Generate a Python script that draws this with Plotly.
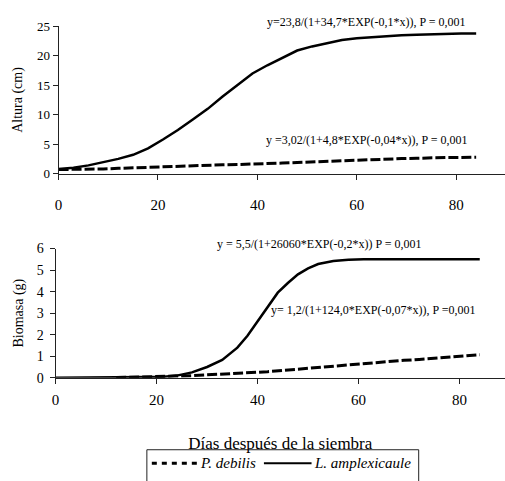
import plotly.graph_objects as go

W, H = 505, 481
FONT = "Liberation Serif, Times New Roman, serif"

# --- Altura (cm) ---
dias_alt = [0, 3, 6, 9, 12, 15, 18, 21, 24, 27, 30, 33, 36, 39, 42, 45, 48, 51,
            54, 57, 60, 63, 66, 69, 72, 75, 78, 81, 84]
alt_lamp = [0.8, 1.0, 1.4, 1.9, 2.5, 3.2, 4.3, 5.8, 7.4, 9.2, 11.0, 13.1, 15.1,
            17.0, 18.4, 19.7, 20.9, 21.6, 22.2, 22.7, 23.0, 23.2, 23.4, 23.5,
            23.6, 23.7, 23.7, 23.8, 23.8]
alt_pdeb = [0.7, 0.7, 0.7, 0.8, 0.9, 1.0, 1.1, 1.15, 1.2, 1.35, 1.4, 1.5, 1.55,
            1.6, 1.7, 1.8, 1.9, 2.0, 2.1, 2.2, 2.35, 2.45, 2.5, 2.55, 2.6, 2.7,
            2.75, 2.75, 2.8]

# --- Biomasa (g) ---
dias_bio_lamp = [0, 3, 6, 9, 12, 15, 18, 21, 24, 27, 30, 33, 36, 38, 40, 42, 44,
                 46, 48, 50, 52, 55, 58, 61, 64, 70, 76, 84]
bio_lamp = [0.0, 0.0, 0.0, 0.0, 0.01, 0.02, 0.03, 0.04, 0.1, 0.25, 0.5, 0.83,
            1.4, 1.95, 2.6, 3.3, 3.95, 4.4, 4.8, 5.08, 5.28, 5.42, 5.48, 5.5,
            5.5, 5.5, 5.5, 5.5]
dias_bio_pdeb = [12, 15, 18, 21, 24, 27, 30, 33, 36, 39, 42, 45, 48, 51, 54, 57,
                 60, 63, 66, 69, 72, 75, 78, 81, 84]
bio_pdeb = [0.01, 0.02, 0.04, 0.06, 0.08, 0.1, 0.13, 0.17, 0.2, 0.24, 0.28,
            0.34, 0.4, 0.45, 0.5, 0.56, 0.62, 0.7, 0.77, 0.81, 0.85, 0.9, 0.97,
            1.02, 1.07]

x_ticks = [0, 20, 40, 60, 80]
alt_ticks = [0, 5, 10, 15, 20, 25]
bio_ticks = [0, 1, 2, 3, 4, 5, 6]

especies = ["P. debilis", "L. amplexicaule"]

ecuaciones = [
    ("y=23,8/(1+34,7*EXP(-0,1*x)), P = 0,001", 263, 15),
    ("y =3,02/(1+4,8*EXP(-0,04*x)), P = 0,001", 262, 137),
    ("y = 5,5/(1+26060*EXP(-0,2*x)) P = 0,001", 213, 245),
    ("y= 1,2/(1+124,0*EXP(-0,07*x)), P =0,001", 267, 313),
]

DASH_PLOT = "10px,3px"
DASH_LEG = "5px,5px"


def px_x(p):
    return p / W


def px_y(p):
    return 1 - p / H


fig = go.Figure()

fig.add_trace(go.Scatter(x=dias_alt, y=alt_pdeb, mode="lines", name=especies[0],
                         line=dict(color="black", width=3, dash=DASH_PLOT),
                         xaxis="x", yaxis="y"))
fig.add_trace(go.Scatter(x=dias_alt, y=alt_lamp, mode="lines", name=especies[1],
                         line=dict(color="black", width=2.5),
                         xaxis="x", yaxis="y"))
fig.add_trace(go.Scatter(x=dias_bio_pdeb, y=bio_pdeb, mode="lines", name=especies[0],
                         line=dict(color="black", width=3, dash=DASH_PLOT),
                         xaxis="x2", yaxis="y2"))
fig.add_trace(go.Scatter(x=dias_bio_lamp, y=bio_lamp, mode="lines", name=especies[1],
                         line=dict(color="black", width=2.5),
                         xaxis="x2", yaxis="y2"))

axis_common = dict(showline=True, linecolor="#222", linewidth=1, showgrid=False,
                   zeroline=False, ticks="outside", ticklen=5, tickcolor="#222",
                   tickwidth=1)

fig.update_layout(
    width=W, height=H,
    margin=dict(l=0, r=0, t=0, b=0),
    paper_bgcolor="white", plot_bgcolor="white",
    font=dict(family=FONT, color="black"),
    showlegend=False,
    xaxis=dict(domain=[55 / W, 1], range=[0, 89.8], tickvals=x_ticks,
               tickfont=dict(size=15), ticklabelstandoff=12, anchor="y",
               **axis_common),
    yaxis=dict(domain=[px_y(172), px_y(20)], range=[0, 25], tickvals=alt_ticks,
               tickfont=dict(size=13), anchor="x",
               title=dict(text="Altura (cm)", font=dict(size=14), standoff=11),
               **axis_common),
    xaxis2=dict(domain=[52 / W, 1], range=[0, 89], tickvals=x_ticks,
                tickfont=dict(size=15), ticklabelstandoff=3, anchor="y2",
                title=dict(text="Días después de la siembra",
                           font=dict(size=17), standoff=30),
                **axis_common),
    yaxis2=dict(domain=[px_y(382.7), px_y(249.3)], range=[0, 6], tickvals=bio_ticks,
                tickfont=dict(size=14), ticklabelstandoff=3, anchor="x2",
                title=dict(text="Biomasa (g)", font=dict(size=14), standoff=9),
                **axis_common),
)

for texto, px, py in ecuaciones:
    fig.add_annotation(text=texto, xref="paper", yref="paper", x=px_x(px), y=px_y(py),
                       xanchor="left", yanchor="middle", showarrow=False,
                       font=dict(size=12))

# key box below the lower panel
fig.add_shape(type="rect", xref="paper", yref="paper",
              x0=px_x(144), x1=px_x(418), y0=px_y(457), y1=px_y(495),
              line=dict(color="#222", width=1), fillcolor="white", layer="above")
fig.add_shape(type="line", xref="paper", yref="paper",
              x0=px_x(149), x1=px_x(196), y0=px_y(471), y1=px_y(471),
              line=dict(color="black", width=3, dash=DASH_LEG))
fig.add_shape(type="line", xref="paper", yref="paper",
              x0=px_x(262), x1=px_x(310), y0=px_y(471), y1=px_y(471),
              line=dict(color="black", width=2))
fig.add_annotation(text="<i>" + especies[0] + "</i>", xref="paper", yref="paper",
                   x=px_x(196), y=px_y(471), xanchor="left", yanchor="middle",
                   showarrow=False, font=dict(size=15))
fig.add_annotation(text="<i>" + especies[1] + "</i>", xref="paper", yref="paper",
                   x=px_x(310), y=px_y(471), xanchor="left", yanchor="middle",
                   showarrow=False, font=dict(size=15))

fig.write_html("out.html")
